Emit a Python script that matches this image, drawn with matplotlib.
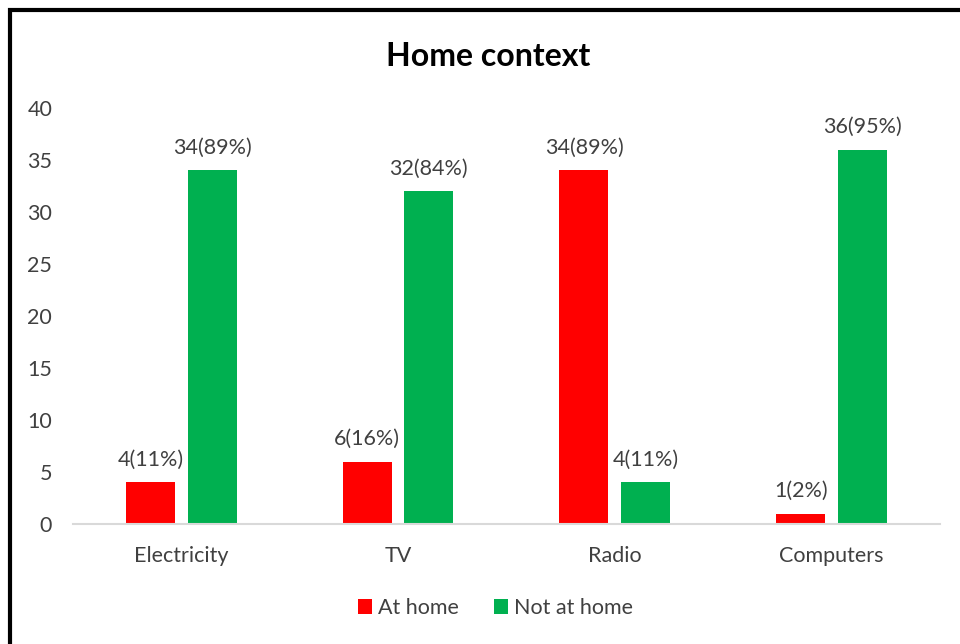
import numpy as np
import matplotlib
matplotlib.use("Agg")
import matplotlib.pyplot as plt
from matplotlib.patches import Rectangle

plt.rcParams["font.family"] = ["Lato", "DejaVu Sans"]

categories = ["Electricity", "TV", "Radio", "Computers"]
at_home = [4, 6, 34, 1]
not_at_home = [34, 32, 4, 36]
at_home_labels = ["4(11%)", "6(16%)", "34(89%)", "1(2%)"]
not_at_home_labels = ["34(89%)", "32(84%)", "4(11%)", "36(95%)"]

red = "#ff0000"
green = "#00b050"
text_col = "#404040"

fig = plt.figure(figsize=(9.6, 6.44), dpi=100)
ax = fig.add_axes([0.076, 0.1863, 0.903, 0.646])

x = np.arange(len(categories))
w = 0.226
off = 0.142
b1 = ax.bar(x - off, at_home, w, color=red, label="At home")
b2 = ax.bar(x + off, not_at_home, w, color=green, label="Not at home")

for bars, labels in ((b1, at_home_labels), (b2, not_at_home_labels)):
    for bar, lab in zip(bars, labels):
        ax.annotate(lab, (bar.get_x() + bar.get_width() / 2, bar.get_height()),
                    xytext=(0, 9), textcoords="offset points",
                    ha="center", va="bottom", fontsize=15.5, color=text_col)

ax.set_xlim(-0.5, len(categories) - 0.5)
ax.set_ylim(0, 40)
ax.set_yticks(range(0, 41, 5))
ax.set_xticks(x)
ax.set_xticklabels(categories)
ax.tick_params(axis="both", length=0, labelsize=15.5, labelcolor=text_col)
ax.tick_params(axis="y", pad=15)
ax.tick_params(axis="x", pad=16)
for s in ("top", "right", "left"):
    ax.spines[s].set_visible(False)
ax.spines["bottom"].set_color("#d9d9d9")
ax.spines["bottom"].set_linewidth(1.5)

fig.text(0.509, 0.912, "Home context", ha="center", va="center",
         fontsize=23, fontweight="bold", color="black")

fig.legend(loc="center", bbox_to_anchor=(0.516, 0.056), ncol=2, frameon=False,
           fontsize=15.5, handlelength=0.65, handleheight=0.65, handletextpad=0.3,
           columnspacing=1.6, labelcolor=text_col)

# outer chart frame, cut off on the right and bottom
fig.patches.append(Rectangle((10 / 960, -0.1), 1.2, 1 - 10 / 644 + 0.1,
                             transform=fig.transFigure, fill=False,
                             edgecolor="black", linewidth=3))

fig.savefig("out.png", dpi=100)
